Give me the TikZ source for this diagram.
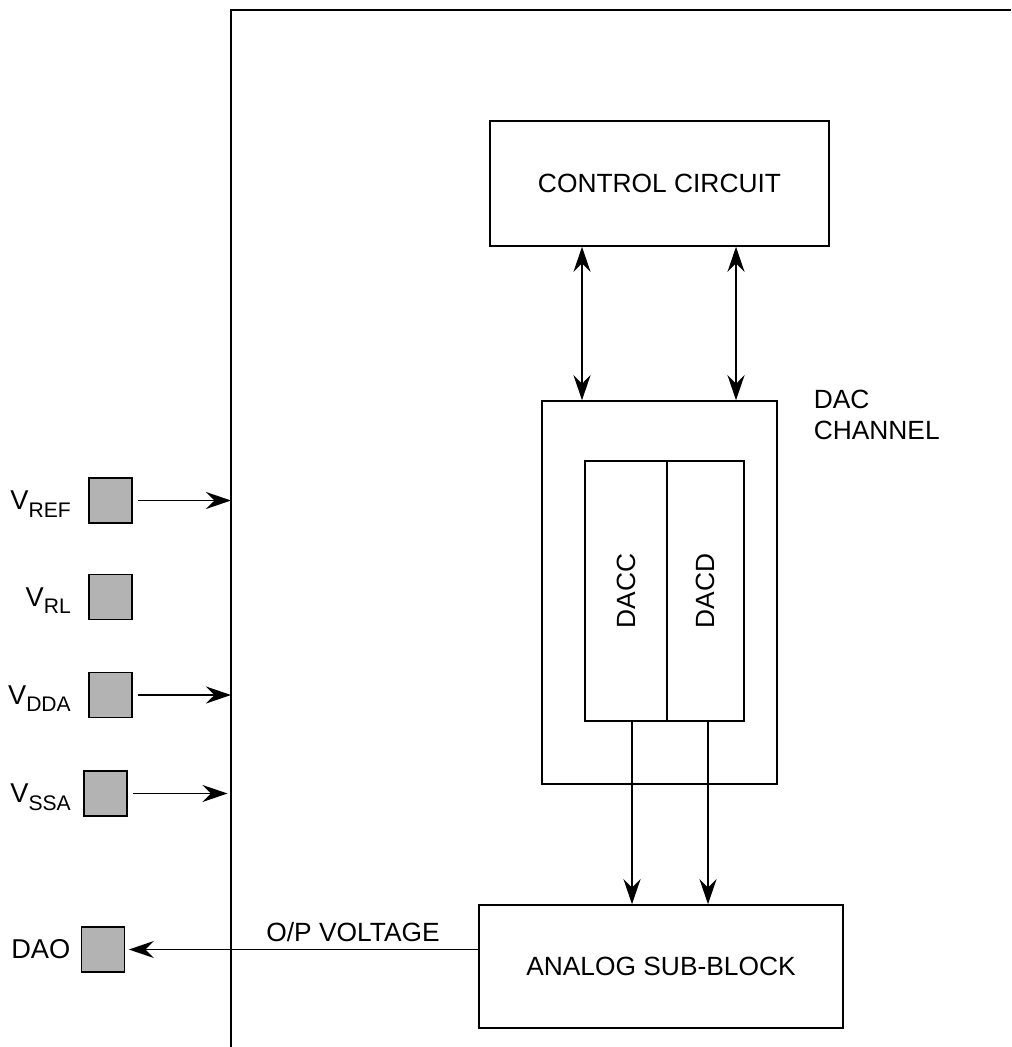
\documentclass[tikz,border=0pt]{standalone}
\usepackage{fontspec}
\setmainfont{Liberation Sans}
\usetikzlibrary{arrows.meta, positioning}
\definecolor{padgray}{RGB}{179,179,179}
\newcommand{\vsub}[1]{V\raisebox{-4.5pt}{\fontsize{12}{14}\selectfont #1}}
\tikzset{
  block/.style={rectangle, draw, line width=0.9pt, inner sep=0pt,
    font=\fontsize{15}{18}\selectfont},
  pad/.style={rectangle, draw, fill=padgray, line width=1pt,
    minimum width=0.86cm, minimum height=0.9cm, inner sep=0pt},
  pinlbl/.style={inner sep=0pt, anchor=base east,
    font=\fontsize{15.5}{18}\selectfont},
  arrow/.style={-{Stealth[length=5mm, width=3.4mm, inset=1.7mm]}, line width=1pt},
  dblarrow/.style={{Stealth[length=5mm, width=3.4mm, inset=1.7mm]}-{Stealth[length=5mm, width=3.4mm, inset=1.7mm]}, line width=1pt},
  wire/.style={line width=0.9pt}
}
\begin{document}
\begin{tikzpicture}[x=0.02cm, y=-0.02cm]
  \useasboundingbox (0,0) rectangle (1011,1047);

  % Chip outline
  \coordinate (fbot) at (231,1047);
  \coordinate (fcorner) at (231,10);
  \coordinate (fright) at (1011,10);
  \draw[wire] (fbot) -- (fcorner) -- (fright);

  % Blocks
  \node[block, minimum width=6.78cm, minimum height=2.5cm] (ctrl) at (659.5,183.5) {CONTROL CIRCUIT};
  \node[block, minimum width=4.7cm, minimum height=7.66cm] (dac) at (659.5,592.5) {};
  \node[block, minimum width=1.64cm, minimum height=5.2cm] (dacc) at (626,591) {};
  \node[block, minimum width=1.54cm, minimum height=5.2cm] (dacd) at (705.5,591) {};
  \node[font=\fontsize{15}{18}\selectfont, rotate=90] (dacctxt) at (dacc) {DACC};
  \node[font=\fontsize{15}{18}\selectfont, rotate=90] (dacdtxt) at (dacd) {DACD};
  \node[block, draw=none, align=left, anchor=north west, inner sep=0pt] (daclbl) at (813,389) {DAC\\CHANNEL};
  \node[block, minimum width=7.28cm, minimum height=2.46cm] (ana) at (661,966.5) {ANALOG SUB-BLOCK};

  % Control <-> DAC channel
  \draw[dblarrow] (582,0 |- ctrl.south) -- (582,0 |- dac.north);
  \draw[dblarrow] (736,0 |- ctrl.south) -- (736,0 |- dac.north);

  % DAC -> analog
  \draw[arrow] (632,0 |- dacc.south) -- (632,0 |- ana.north);
  \draw[arrow] (708,0 |- dacd.south) -- (708,0 |- ana.north);

  % Pads
  \node[pad] (vref) at (110.5,500.5) {};
  \node[pad] (vrl)  at (110.5,597) {};
  \node[pad] (vdda) at (110.5,695) {};
  \node[pad] (vssa) at (105.5,793.5) {};
  \node[pad] (dao)  at (103,949.5) {};

  \node[pinlbl] (vreflbl) at ([xshift=-0.34cm, yshift=-0.18cm]vref.west) {\vsub{REF}};
  \node[pinlbl] (vrllbl)  at ([xshift=-0.34cm, yshift=-0.18cm]vrl.west) {\vsub{RL}};
  \node[pinlbl] (vddalbl) at ([xshift=-0.34cm, yshift=-0.18cm]vdda.west) {\vsub{DDA}};
  \node[pinlbl] (vssalbl) at ([xshift=-0.24cm, yshift=-0.18cm]vssa.west) {\vsub{SSA}};
  \node[pinlbl] (daolbl)  at ([xshift=-0.2cm, yshift=-0.18cm]dao.west) {DAO};

  % Supply inputs
  \draw[arrow] ([xshift=3pt]vref.east) -- (vref.east -| fcorner);
  \draw[arrow] ([xshift=3pt]vdda.east) -- (vdda.east -| fcorner);
  \draw[arrow, shorten >=2pt] ([xshift=3pt]vssa.east) -- (vssa.east -| fcorner);

  % Output
  \draw[arrow, shorten >=2pt] (ana.west |- dao.east) -- node[above, pos=0.355, font=\fontsize{15}{18}\selectfont, inner sep=4pt] (oplbl) {O/P VOLTAGE} (dao.east);

\end{tikzpicture}
\end{document}
